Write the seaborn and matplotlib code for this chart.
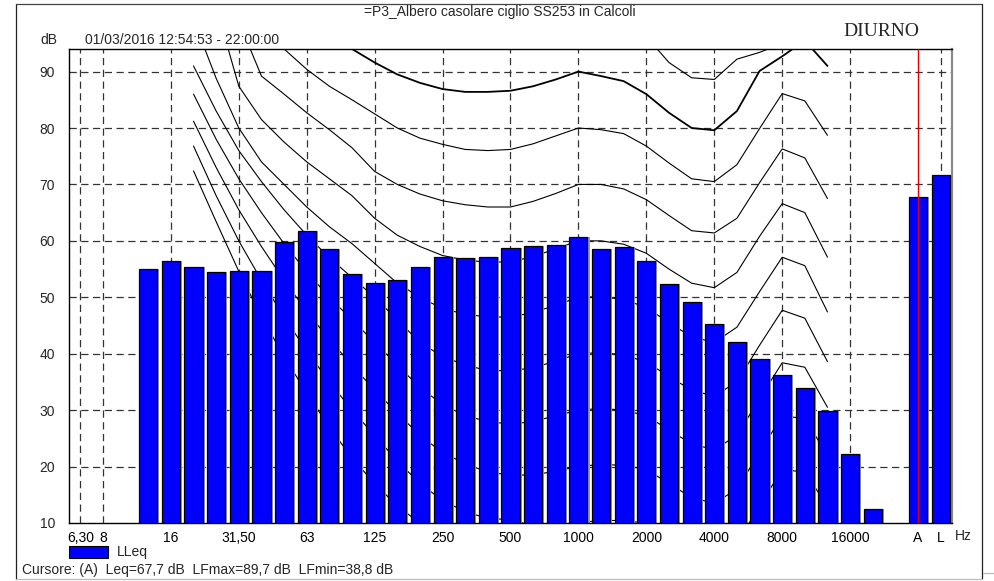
import numpy as np
import pandas as pd
import matplotlib
matplotlib.use("Agg")
import matplotlib.pyplot as plt
import seaborn as sns
from matplotlib.patches import Rectangle
from matplotlib.lines import Line2D

# ---------------- data ----------------
bands = ['6,3', '8', '10', '12,5', '16', '20', '25', '31,5', '40', '50', '63', '80',
         '100', '125', '160', '200', '250', '315', '400', '500', '630', '800', '1000',
         '1250', '1600', '2000', '2500', '3150', '4000', '5000', '6300', '8000',
         '10000', '12500', '16000', '20000', '25000', 'A', 'L']

# LLeq per band (12,5 Hz .. 20 kHz), then A and L totals
bar_bands = ['12,5', '16', '20', '25', '31,5', '40', '50', '63', '80', '100', '125',
             '160', '200', '250', '315', '400', '500', '630', '800', '1000', '1250',
             '1600', '2000', '2500', '3150', '4000', '5000', '6300', '8000', '10000',
             '12500', '16000', '20000', 'A', 'L']
lleq = [55.0, 56.4, 55.3, 54.5, 54.7, 54.6, 59.8, 61.7, 58.6, 54.1, 52.6,
        53.1, 55.3, 57.2, 56.9, 57.2, 58.8, 59.1, 59.2, 60.6, 58.6,
        59.0, 56.5, 52.3, 49.2, 45.2, 42.1, 39.0, 36.3, 33.9,
        29.8, 22.2, 12.4, 67.7, 71.7]

tick_bands = ['6,3', '8', '16', '31,5', '63', '125', '250', '500', '1000', '2000',
              '4000', '8000', '16000', 'A', 'L']
tick_labels = ['6,30', '8', '16', '31,50', '63', '125', '250', '500', '1000', '2000',
               '4000', '8000', '16000', 'A', 'L']
grid_bands = ['6,3', '8', '16', '31,5', '63', '125', '250', '500', '1000', '2000',
              '4000', '8000', '16000', 'L']
y_ticks = [10, 20, 30, 40, 50, 60, 70, 80, 90]

# contour curves, values at bands 20 Hz .. 12,5 kHz
curve_bands = bands[5:34]
N = np.nan
c100 = [N, N, N, N, N, N, N, N, N, N, N, N, N, N, N, N, N,
        100.0, 99.5, 98.5, 96.2, 91.6, 88.9, 88.6, 92.2, 93.4, 95.0, 100.0, 99.0]
c90 = [N, N, N, N, N, N, 97.0, 94.0, 91.6, 89.5, 88.0, 86.9, 86.4, 86.4, 86.6,
       87.4, 88.6, 90.0, 89.2, 88.3, 86.0, 82.7, 80.0, 79.6, 83.0, 90.1, 92.7, 95.5, 91.0]
c80 = [N, N, N, 97.5, 94.0, 90.4, 87.4, 85.0, 82.5, 80.0, 78.2, 77.1, 76.2, 76.0, 76.2,
       77.2, 78.6, 80.0, 79.7, 79.0, 76.8, 73.8, 71.0, 70.5, 73.5, 79.9, 86.1, 84.8, 78.7]
c70 = [N, N, 98.9, 89.2, 86.0, 82.7, 79.7, 76.5, 72.3, 70.0, 68.3, 67.1, 66.4, 66.0, 66.0,
       67.0, 68.4, 70.0, 70.0, 69.2, 67.3, 64.5, 61.8, 61.4, 64.0, 70.3, 76.3, 74.7, 67.5]
c60 = [N, 101.5, 87.4, 81.5, 77.5, 74.0, 71.0, 68.0, 64.0, 61.0, 59.0, 57.4, 56.6, 56.2, 56.3,
       57.2, 58.6, 60.0, 60.0, 59.4, 57.8, 55.0, 52.5, 51.7, 54.4, 60.8, 66.6, 65.0, 57.1]
c50 = [99.2, 88.8, 80.0, 74.0, 70.0, 66.0, 62.5, 59.5, 56.0, 52.5, 50.0, 48.0, 47.0, 46.5, 46.5,
       47.3, 48.6, 50.0, 50.1, 49.6, 48.2, 45.5, 43.0, 42.0, 44.7, 51.0, 57.1, 55.6, 47.4]
c40 = [91.0, 83.0, 76.0, 70.5, 65.5, 61.0, 57.0, 53.5, 50.0, 46.0, 42.0, 39.5, 38.0, 37.0, 37.0,
       37.5, 38.7, 40.0, 40.2, 39.8, 38.5, 36.0, 33.5, 32.5, 35.0, 41.5, 47.7, 46.3, 38.6]
c30 = [86.0, 78.0, 71.0, 65.0, 59.5, 54.5, 50.0, 46.0, 42.0, 38.0, 34.0, 31.0, 29.0, 28.0, 27.5,
       28.0, 29.0, 30.0, 30.3, 30.0, 29.0, 26.5, 24.0, 23.0, 25.5, 32.0, 38.4, 37.6, 30.5]
c20 = [81.2, 73.0, 65.5, 59.0, 53.0, 47.5, 42.5, 38.0, 33.5, 29.5, 25.5, 22.5, 20.5, 19.0, 18.5,
       18.5, 19.2, 20.0, 20.4, 20.2, 19.5, 17.0, 14.5, 13.5, 16.0, 22.5, 29.0, 28.5, 22.0]
c10 = [76.8, 68.0, 60.0, 53.0, 46.5, 40.5, 35.0, 30.0, 25.5, 21.0, 17.0, 14.0, 12.0, 10.8, 10.6,
       9.5, 9.8, 10.0, 10.5, 10.4, 10.0, 7.5, 5.0, 4.0, 6.5, 13.0, 19.5, 19.0, 13.0]
c0 = [72.4, 63.4, 54.6, 46.5, 39.5, 33.0, 27.0, 21.5, 17.0, 13.0, 10.0, 7.0, 5.0, 4.0, 3.0,
      2.0, 1.0, 0.0, 0.5, 0.5, 0.0, -2.0, -4.0, -5.0, -3.0, 3.0, 10.0, 9.5, 4.0]
curves = [c0, c10, c20, c30, c40, c50, c60, c70, c80, c90, c100]
curve_widths = [0.8, 0.8, 0.8, 0.8, 0.8, 0.8, 0.8, 0.8, 0.8, 1.3, 0.8]

# ---------------- figure ----------------
W, H = 995, 581
sns.set_style("white")
plt.rcParams['font.family'] = ['Liberation Sans', 'DejaVu Sans']
fig = plt.figure(figsize=(W / 100, H / 100), dpi=100)

L, R, T, B = 69, 952, 49, 523
ax = fig.add_axes([L / W, 1 - B / H, (R - L) / W, (B - T) / H])

pos = {b: i for i, b in enumerate(bands)}
dash = (0, (5.8, 3.6))

# grid
for yv in y_ticks[1:]:
    ax.axhline(yv, color='#333333', lw=0.9, ls=dash, zorder=1)
for gb in grid_bands:
    ax.axvline(pos[gb], color='#333333', lw=0.9, ls=dash, zorder=1)

# contour curves (behind bars)
cx = [pos[b] for b in curve_bands]
for c, lw in zip(curves, curve_widths):
    ax.plot(cx, c, color='black', lw=lw, zorder=2, solid_joinstyle='miter')

# bars with gray drop shadow
df = pd.DataFrame({'x': [pos[b] for b in bar_bands], 'LLeq': lleq})
ax.bar(df['x'] + 0.09, df['LLeq'] - 10, bottom=10, width=0.8, color='#9a9a9a',
       linewidth=0, zorder=2.5)
sns.barplot(data=df, x='x', y='LLeq', native_scale=True, width=0.8, color='#0000FF',
            saturation=1, edgecolor='black', linewidth=0.9, ax=ax, zorder=3)
for p in ax.patches:
    if p.get_facecolor()[:3] == (0.0, 0.0, 1.0):
        y0 = p.get_y()
        hgt = p.get_height()
        p.set_y(10)
        p.set_height(y0 + hgt - 10)

# red cursor line at A
ax.axvline(pos['A'], color='#e00000', lw=1.0, zorder=4)

ax.set_xlim(-0.5, 38.5)
ax.set_ylim(10, 94.0)
ax.set_xticks([pos[b] for b in tick_bands])
ax.set_xticklabels(tick_labels)
ax.set_yticks(y_ticks)
ax.set_yticklabels([str(v) for v in y_ticks])
ax.set_xlabel('')
ax.set_ylabel('')
ax.tick_params(axis='x', length=3, width=0.8, direction='out', pad=3, labelsize=10,
               colors='black')
ax.tick_params(axis='y', length=0, pad=10, labelsize=10)
for s in ['left', 'bottom', 'top']:
    ax.spines[s].set_color('black')
    ax.spines[s].set_linewidth(1.0)
ax.spines['right'].set_color('#8a8a8a')
ax.spines['right'].set_linewidth(1.6)

# texts
def px(x, y):
    return x / W, 1 - y / H

fig.text(*px(500, 12), '=P3_Albero casolare ciglio SS253 in Calcoli', ha='center',
         va='center', fontsize=10)
fig.text(*px(40, 40), 'dB', ha='left', va='center', fontsize=10)
fig.text(*px(85, 40), '01/03/2016 12:54:53 - 22:00:00', ha='left', va='center', fontsize=10)
fig.text(*px(881, 31), 'DIURNO', ha='center', va='center', fontsize=14,
         family=['Liberation Serif', 'DejaVu Serif'])
fig.text(*px(963, 536), 'Hz', ha='center', va='center', fontsize=10)

# legend
fig.patches.append(Rectangle(px(69, 558), 39 / W, 12 / H, transform=fig.transFigure,
                             facecolor='#0000FF', edgecolor='black', lw=0.8))
fig.text(*px(117, 552), 'LLeq', ha='left', va='center', fontsize=10)
fig.text(*px(22, 570), 'Cursore: (A)  Leq=67,7 dB  LFmax=89,7 dB  LFmin=38,8 dB',
         ha='left', va='center', fontsize=10)

# outer frame
fig.add_artist(Line2D([16 / W, 16 / W], [1 - 579 / H, 1 - 4 / H], color='#222222', lw=0.9))
fig.add_artist(Line2D([16 / W, 982 / W], [1 - 4 / H, 1 - 4 / H], color='#444444', lw=0.9))
fig.add_artist(Line2D([982 / W, 982 / W], [1 - 579 / H, 1 - 4 / H], color='#222222', lw=0.9))
fig.add_artist(Line2D([16 / W, 982 / W], [1 - 579 / H, 1 - 579 / H], color='#bbbbbb', lw=0.9))
fig.add_artist(Line2D([983 / W, 995 / W], [1 - 573 / H, 1 - 573 / H], color='#bbbbbb', lw=0.9))

fig.savefig('out.png', dpi=100)
